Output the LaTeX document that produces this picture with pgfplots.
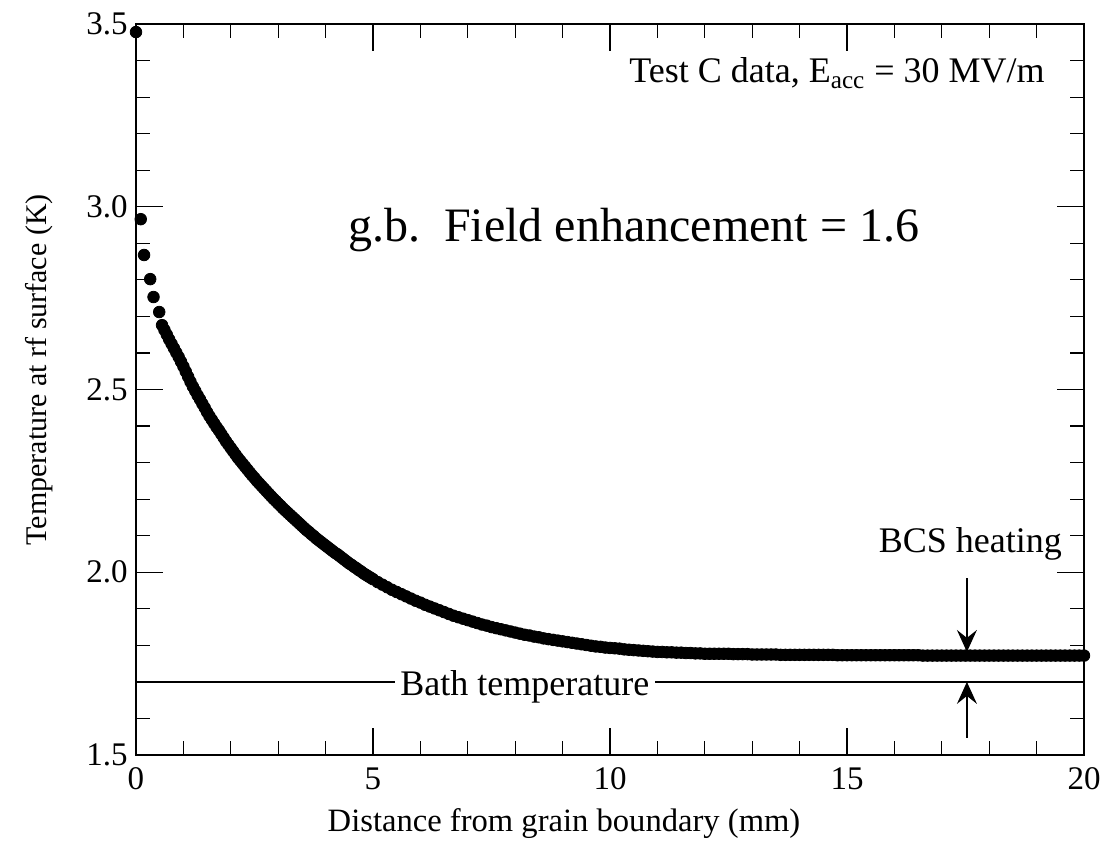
\documentclass[border=0pt]{standalone}
\usepackage{fontspec}
\setmainfont{Liberation Serif}
\usepackage{graphicx}
\usepackage{pgfplots}
\pgfplotsset{compat=1.18}
\usetikzlibrary{arrows.meta}
\begin{document}
\begin{tikzpicture}
\begin{axis}[
  scale only axis,
  width=474pt, height=365.5pt,
  xmin=0, xmax=20, ymin=1.5, ymax=3.5,
  xtick={0,5,10,15,20}, ytick={1.5,2.0,2.5,3.0,3.5},
  minor xtick={1,2,3,4,6,7,8,9,11,12,13,14,16,17,18,19},
  minor ytick={1.6,1.7,1.8,1.9,2.1,2.2,2.3,2.4,2.6,2.7,2.8,2.9,3.1,3.2,3.3,3.4},
  xticklabels={0,5,10,15,20},
  yticklabels={1.5,2.0,2.5,3.0,3.5},
  tick align=inside,
  major tick length=13.5pt, minor tick length=7pt,
  axis line style={line width=0.7pt},
  every tick/.style={black, line width=0.6pt},
  tick label style={font=\fontsize{16.5}{19}\selectfont},
  xticklabel style={inner ysep=6pt},
  yticklabel style={inner xsep=4pt},
  xlabel={Distance from grain boundary (mm)},
  ylabel={Temperature at rf surface (K)},
  xlabel style={font=\fontsize{16.3}{19}\selectfont, at={(axis description cs:0.4515,0)}, anchor=north, yshift=-23pt},
  ylabel style={font=\fontsize{15}{18}\selectfont, at={(axis description cs:-0.0802,0.527)}, anchor=south},
  clip=false,
]
\coordinate (O) at (rel axis cs:0,0);
% bath temperature line (two segments around the label)
\addplot[black, line width=0.7pt] coordinates {(0,1.7) (5.46,1.7)};
\addplot[black, line width=0.7pt] coordinates {(10.95,1.7) (20,1.7)};
\node[anchor=base west, inner sep=0pt, font=\fontsize{18}{21}\selectfont] at (axis cs:5.57,1.664) {Bath temperature};
% data
\addplot[only marks, mark=*, mark size=2.9pt, mark options={draw=none, fill=black}] coordinates {
(0,3.478) (0.10,2.966) (0.17,2.868) (0.30,2.802) (0.37,2.753) (0.49,2.712)
(0.55,2.676) (0.60,2.663) (0.65,2.650) (0.70,2.637) (0.75,2.625) (0.80,2.613)
(0.85,2.601) (0.90,2.589) (0.95,2.576) (1.00,2.563) (1.05,2.549) (1.10,2.535)
(1.15,2.521) (1.20,2.508) (1.25,2.496) (1.30,2.484) (1.35,2.473) (1.40,2.461)
(1.45,2.450) (1.50,2.438) (1.55,2.427) (1.60,2.417) (1.65,2.407) (1.70,2.397)
(1.75,2.388) (1.80,2.378) (1.85,2.368) (1.90,2.358) (1.95,2.349) (2.00,2.340)
(2.05,2.331) (2.10,2.322) (2.15,2.313) (2.20,2.305) (2.25,2.297) (2.30,2.289)
(2.35,2.281) (2.40,2.273) (2.45,2.265) (2.50,2.258) (2.55,2.250) (2.60,2.243)
(2.65,2.236) (2.70,2.229) (2.75,2.222) (2.80,2.215) (2.85,2.208) (2.90,2.201)
(2.95,2.195) (3.00,2.188) (3.05,2.182) (3.10,2.175) (3.15,2.169) (3.20,2.163)
(3.25,2.157) (3.30,2.151) (3.35,2.145) (3.40,2.139) (3.45,2.133) (3.50,2.127)
(3.55,2.121) (3.60,2.115) (3.65,2.110) (3.70,2.104) (3.75,2.099) (3.80,2.093)
(3.85,2.088) (3.90,2.083) (3.95,2.078) (4.00,2.073) (4.05,2.068) (4.10,2.063)
(4.15,2.058) (4.20,2.053) (4.25,2.049) (4.30,2.044) (4.35,2.039) (4.40,2.034)
(4.45,2.029) (4.50,2.024) (4.55,2.020) (4.60,2.015) (4.65,2.011) (4.70,2.006)
(4.75,2.002) (4.80,1.997) (4.85,1.993) (4.90,1.989) (4.95,1.985) (5.00,1.981)
(5.10,1.973) (5.20,1.966) (5.30,1.959) (5.40,1.952) (5.50,1.946) (5.60,1.940)
(5.70,1.934) (5.80,1.928) (5.90,1.922) (6.00,1.917) (6.10,1.911) (6.20,1.906)
(6.30,1.901) (6.40,1.896) (6.50,1.891) (6.60,1.886) (6.70,1.881) (6.80,1.877)
(6.90,1.873) (7.00,1.869) (7.10,1.865) (7.20,1.861) (7.30,1.857) (7.40,1.854)
(7.50,1.850) (7.60,1.847) (7.70,1.844) (7.80,1.841) (7.90,1.838) (8.00,1.835)
(8.10,1.832) (8.20,1.829) (8.30,1.827) (8.40,1.824) (8.50,1.822) (8.60,1.819)
(8.70,1.817) (8.80,1.815) (8.90,1.813) (9.00,1.811) (9.10,1.809) (9.20,1.807)
(9.30,1.805) (9.40,1.803) (9.50,1.801) (9.60,1.799) (9.70,1.797) (9.80,1.796)
(9.90,1.794) (10.00,1.793) (10.10,1.792) (10.20,1.791) (10.30,1.789) (10.40,1.788)
(10.50,1.787) (10.60,1.786) (10.70,1.785) (10.80,1.784) (10.90,1.783) (11.00,1.782)
(11.10,1.782) (11.20,1.781) (11.30,1.781) (11.40,1.780) (11.50,1.780) (11.60,1.779)
(11.70,1.779) (11.80,1.778) (11.90,1.778) (12.00,1.777) (12.10,1.777) (12.20,1.777)
(12.30,1.777) (12.40,1.777) (12.50,1.777) (12.60,1.776) (12.70,1.776) (12.80,1.776)
(12.90,1.776) (13.00,1.775) (13.10,1.775) (13.20,1.775) (13.30,1.775) (13.40,1.775)
(13.50,1.775) (13.60,1.774) (13.70,1.774) (13.80,1.774) (13.90,1.774) (14.00,1.774)
(14.10,1.774) (14.20,1.774) (14.30,1.774) (14.40,1.774) (14.50,1.774) (14.60,1.774)
(14.70,1.774) (14.80,1.773) (14.90,1.773) (15.00,1.773) (15.10,1.773) (15.20,1.773)
(15.30,1.773) (15.40,1.773) (15.50,1.773) (15.60,1.773) (15.70,1.773) (15.80,1.773)
(15.90,1.773) (16.00,1.773) (16.10,1.773) (16.20,1.773) (16.30,1.773) (16.40,1.773)
(16.50,1.773) (16.60,1.772) (16.70,1.772) (16.80,1.772) (16.90,1.772) (17.00,1.772)
(17.10,1.772) (17.20,1.772) (17.30,1.772) (17.40,1.772) (17.50,1.772) (17.60,1.772)
(17.70,1.772) (17.80,1.772) (17.90,1.772) (18.00,1.772) (18.10,1.772) (18.20,1.772)
(18.30,1.772) (18.40,1.772) (18.50,1.772) (18.60,1.772) (18.70,1.772) (18.80,1.772)
(18.90,1.772) (19.00,1.772) (19.10,1.772) (19.20,1.772) (19.30,1.772) (19.40,1.772)
(19.50,1.772) (19.60,1.772) (19.70,1.772) (19.80,1.772) (19.90,1.772) (20.00,1.772)
};
% BCS heating arrows
\addplot[black, line width=0.6pt, -{Stealth[length=11pt, width=10pt, inset=4pt]}] coordinates {(17.53,1.984) (17.53,1.782)};
\addplot[black, line width=0.6pt, -{Stealth[length=11pt, width=10pt, inset=4pt]}] coordinates {(17.53,1.547) (17.53,1.700)};
\node[anchor=base east, inner sep=0pt, font=\fontsize{18}{21}\selectfont] at (axis cs:19.54,2.055) {BCS heating};
\node[anchor=base east, inner sep=0pt, font=\fontsize{18}{21}\selectfont] at (axis cs:19.18,3.339) {Test C data, E\textsubscript{acc} = 30 MV/m};
\node[anchor=base west, inner sep=0pt, font=\fontsize{24}{28}\selectfont] at (axis cs:4.47,2.904) {g.b.\ \ Field enhancement = 1.6};
\end{axis}
\pgfresetboundingbox
\path (O) ++(-68pt,-51.5pt) rectangle ++(552pt,429pt);
\end{tikzpicture}
\end{document}
